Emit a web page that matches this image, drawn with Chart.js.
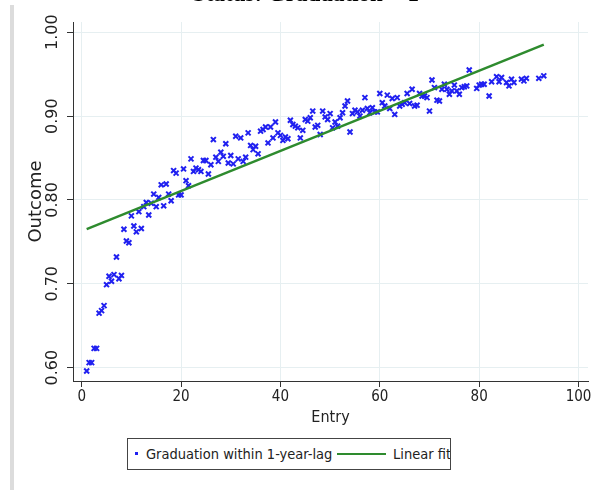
<!DOCTYPE html>
<html>
<head>
<meta charset="utf-8">
<script src="https://cdn.jsdelivr.net/npm/chart.js@4.4.1/dist/chart.umd.min.js"></script>
<style>
  html, body { margin: 0; padding: 0; background: #fff; }
  #wrap { position: relative; width: 598px; height: 490px; overflow: hidden; background: #fff; }
  #sideBar { position: absolute; left: 10px; top: 5px; width: 4px; height: 485px; background: #dcdcdc; }
  #chart { position: absolute; left: 0; top: 0; }
  #legend {
    position: absolute; left: 127px; top: 438px; width: 322px; height: 30px;
    border: 1px solid #444; overflow: hidden; background: #fff;
    font: 14.5px 'DejaVu Sans Condensed', 'DejaVu Sans', sans-serif; color: #222;
  }
  #legend .mk { position: absolute; left: 7px; top: 13px; width: 3px; height: 3px; background: #2020f0; }
  #legend .t1 { position: absolute; left: 18px; top: 6px; white-space: nowrap; line-height: 18px; }
  #legend .ln { position: absolute; left: 209px; top: 14px; width: 49px; height: 2px; background: #2e8b2e; }
  #legend .t2 { position: absolute; left: 265px; top: 6px; white-space: nowrap; line-height: 18px; }
</style>
</head>
<body>
<div id="wrap">
  <div id="sideBar"></div>
  <canvas id="chart" width="598" height="490"></canvas>
  <div id="legend">
    <span class="mk"></span><span class="t1">Graduation within 1-year-lag</span>
    <span class="ln"></span><span class="t2">Linear fit</span>
  </div>
</div>
<script>
// Entry values (x) and graduation share within a 1-year lag (y)
const entries = [
  1, 1.5, 2, 2.5, 3, 3.5, 4, 4.5, 5, 5.5, 6, 6.5, 7, 7.5, 8, 8.5, 9, 9.5, 10, 10.5,
  11, 11.5, 12, 12.5, 13, 13.5, 14, 14.5, 15, 15.5, 16, 16.5, 17, 17.5, 18, 18.5, 19, 19.5, 20, 20.5,
  21, 21.5, 22, 22.5, 23, 23.5, 24, 24.5, 25, 25.5, 26, 26.5, 27, 27.5, 28, 28.5, 29, 29.5, 30, 30.5,
  31, 31.5, 32, 32.5, 33, 33.5, 34, 34.5, 35, 35.5, 36, 36.5, 37, 37.5, 38, 38.5, 39, 39.5, 40, 40.5,
  41, 41.5, 42, 42.5, 43, 43.5, 44, 44.5, 45, 45.5, 46, 46.5, 47, 47.5, 48, 48.5, 49, 49.5, 50, 50.5,
  51, 51.5, 52, 52.5, 53, 53.5, 54, 54.5, 55, 55.5, 56, 56.5, 57, 57.5, 58, 58.5, 59, 59.5, 60, 60.5,
  61, 61.5, 62, 62.5, 63, 63.5, 64, 64.5, 65, 65.5, 66, 66.5, 67, 67.5, 68, 68.5, 69, 69.5, 70, 70.5,
  71, 71.5, 72, 72.5, 73, 73.5, 74, 74.5, 75, 75.5, 76, 76.5, 77, 77.5, 78,
  79.5, 80, 80.5, 81, 82, 82.5, 83.5, 84, 84.5, 85.5, 86, 86.5, 87, 88.5, 89, 89.5, 92, 93
];
const outcome = [
  0.596, 0.606, 0.606, 0.623, 0.623, 0.665, 0.668, 0.674, 0.699, 0.709, 0.703, 0.711, 0.732, 0.706, 0.710, 0.765, 0.751, 0.749, 0.781, 0.769,
  0.762, 0.786, 0.766, 0.792, 0.797, 0.782, 0.796, 0.807, 0.792, 0.803, 0.818, 0.793, 0.819, 0.807, 0.799, 0.835, 0.832, 0.806, 0.806, 0.837,
  0.823, 0.817, 0.849, 0.834, 0.838, 0.836, 0.834, 0.847, 0.847, 0.831, 0.842, 0.872, 0.851, 0.846, 0.857, 0.852, 0.867, 0.844, 0.853, 0.843,
  0.876, 0.849, 0.874, 0.846, 0.851, 0.880, 0.865, 0.860, 0.864, 0.855, 0.882, 0.884, 0.887, 0.868, 0.887, 0.874, 0.893, 0.880, 0.877, 0.871,
  0.875, 0.873, 0.895, 0.890, 0.888, 0.886, 0.874, 0.883, 0.896, 0.894, 0.898, 0.906, 0.887, 0.889, 0.878, 0.906, 0.899, 0.896, 0.903, 0.886,
  0.893, 0.888, 0.898, 0.904, 0.912, 0.918, 0.881, 0.903, 0.907, 0.905, 0.900, 0.907, 0.922, 0.909, 0.904, 0.910, 0.905, 0.905, 0.927, 0.916,
  0.912, 0.925, 0.909, 0.921, 0.902, 0.922, 0.912, 0.914, 0.916, 0.927, 0.915, 0.932, 0.912, 0.913, 0.927, 0.924, 0.924, 0.922, 0.906, 0.943,
  0.934, 0.919, 0.918, 0.932, 0.938, 0.932, 0.926, 0.930, 0.937, 0.930, 0.926, 0.934, 0.935, 0.936, 0.955,
  0.933, 0.937, 0.938, 0.938, 0.924, 0.941, 0.947, 0.941, 0.946, 0.940, 0.936, 0.944, 0.940, 0.944, 0.942, 0.945, 0.945, 0.948
];

// Linear fit endpoints
const fitEntries = [1, 93];
const fitOutcome = [0.7653, 0.9853];

// Axis ticks
const xTicks = [0, 20, 40, 60, 80, 100];
const yTicks = [0.6, 0.7, 0.8, 0.9, 1.0];

const chartTitle = 'Status: Graduation = 1';
const xTitle = 'Entry';
const yTitle = 'Outcome';

const BLUE = '#2020f0';
const GREEN = '#2e8b2e';
const GRID = '#e6eff1';
const AXIS = '#333333';
const COND = "'DejaVu Sans Condensed', 'DejaVu Sans', sans-serif";
const REG = "'DejaVu Sans', sans-serif";

const scatterPts = entries.map((x, i) => ({ x: x, y: outcome[i] }));
const fitPts = fitEntries.map((x, i) => ({ x: x, y: fitOutcome[i] }));

// Heading sits mostly above the canvas edge
const headingPlugin = {
  id: 'heading',
  afterDraw(chart) {
    const ctx = chart.ctx;
    ctx.save();
    ctx.font = "bold 23px 'Liberation Serif', serif";
    ctx.fillStyle = '#000';
    ctx.textAlign = 'center';
    ctx.textBaseline = 'alphabetic';
    ctx.fillText(chartTitle, 306, 1);
    ctx.restore();
  }
};

new Chart(document.getElementById('chart'), {
  type: 'scatter',
  data: {
    datasets: [
      {
        label: 'Graduation within 1-year-lag',
        data: scatterPts,
        pointStyle: 'crossRot',
        pointRadius: 3.5,
        pointBorderWidth: 2,
        borderColor: BLUE,
        backgroundColor: BLUE,
        order: 2
      },
      {
        type: 'line',
        label: 'Linear fit',
        data: fitPts,
        borderColor: GREEN,
        borderWidth: 2.5,
        pointRadius: 0,
        fill: false,
        order: 1
      }
    ]
  },
  options: {
    responsive: false,
    animation: false,
    layout: { padding: { left: 26, top: 22, right: 10, bottom: 63 } },
    plugins: { legend: { display: false }, tooltip: { enabled: false }, title: { display: false } },
    scales: {
      x: {
        type: 'linear',
        min: -1.75,
        max: 101.9,
        afterBuildTicks: (s) => { s.ticks = xTicks.map(v => ({ value: v })); },
        afterFit: (s) => { s.height = 46; },
        grid: { color: GRID, lineWidth: 1, tickColor: AXIS, tickLength: 6, drawTicks: true },
        border: { color: AXIS, width: 1 },
        ticks: {
          color: '#222', padding: 1, autoSkip: false, maxRotation: 0,
          font: { family: COND, size: 15 },
          callback: (v) => String(v)
        },
        title: { display: true, text: xTitle, color: '#222', padding: 0, font: { family: COND, size: 16 } }
      },
      y: {
        type: 'linear',
        min: 0.5841,
        max: 1.0122,
        afterBuildTicks: (s) => { s.ticks = yTicks.map(v => ({ value: v })); },
        afterFit: (s) => { s.width = 47; },
        grid: { color: GRID, lineWidth: 1, tickColor: AXIS, tickLength: 6, drawTicks: true },
        border: { color: AXIS, width: 1 },
        ticks: {
          color: '#222', padding: -4, autoSkip: false,
          minRotation: 90, maxRotation: 90, crossAlign: 'center',
          font: { family: REG, size: 16 },
          callback: (v) => Number(v).toFixed(2)
        },
        title: { display: true, text: yTitle, color: '#222', padding: 0, font: { family: REG, size: 18 } }
      }
    }
  },
  plugins: [headingPlugin]
});
</script>
</body>
</html>
